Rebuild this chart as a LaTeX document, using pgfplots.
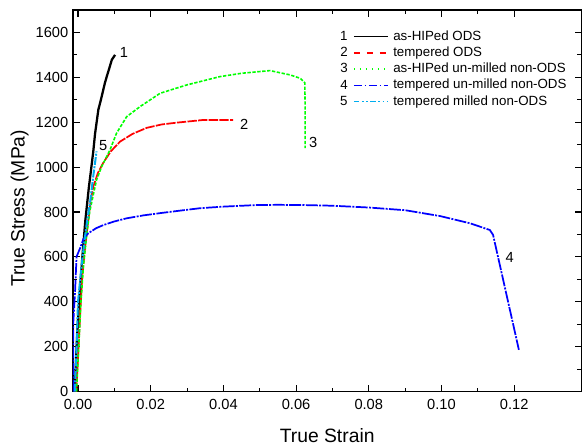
\documentclass[border=0pt]{standalone}
\usepackage{fontspec}
\setmainfont{Liberation Sans}
\usepackage{pgfplots}
\pgfplotsset{compat=1.18}
\newcommand{\legnum}[1]{\node[anchor=east,inner sep=0pt,text=black,font=\fontsize{10}{12}\selectfont] at (-4pt,-0.3pt){#1};}
\pgfplotsset{
 legA/.style={legend image code/.code={\draw[black,line width=1.1pt] (0pt,0pt) -- (25.5pt,0pt); \legnum{1}}},
 legB/.style={legend image code/.code={\draw[red,line width=1.1pt,dash pattern=on 4.7pt off 5pt] (0pt,0pt) -- (25.5pt,0pt); \legnum{2}}},
 legC/.style={legend image code/.code={\draw[green,line width=1.1pt,dash pattern=on 1.1pt off 3.4pt] (0pt,0pt) -- (25.5pt,0pt); \legnum{3}}},
 legD/.style={legend image code/.code={\draw[blue,line width=1.1pt,dash pattern=on 6pt off 2pt on 1.2pt off 2pt] (0pt,0pt) -- (25.5pt,0pt); \legnum{4}}},
 legE/.style={legend image code/.code={\draw[cyan,line width=1.1pt,dash pattern=on 4pt off 2pt on 1.2pt off 2pt on 1.2pt off 2pt] (0pt,0pt) -- (25.5pt,0pt); \legnum{5}}},
}
\begin{document}
\begin{tikzpicture}
\begin{axis}[name=ax,
  scale only axis, width=381.75pt, height=286.5pt,
  xmin=-0.0014, xmax=0.1385, ymin=0, ymax=1700,
  axis line style={line width=0.9pt},
  tick style={line width=0.8pt, black},
  tick align=inside,
  major tick length=5pt, minor tick length=3pt,
  xtick={0,0.02,...,0.121}, minor x tick num=1,
  ytick={0,200,...,1600}, minor y tick num=1,
  xticklabel style={/pgf/number format/.cd, fixed, fixed zerofill, precision=2},
  ticklabel style={font=\fontsize{11}{13}\selectfont},
  /pgf/number format/assume math mode=true,
  /pgf/number format/1000 sep={},
  xticklabel shift=2pt,
  xlabel={True Strain}, ylabel={True Stress (MPa)},
  every axis x label/.style={at={(axis description cs:0.5,-0.115)}, anchor=center, font=\fontsize{14.5}{16}\selectfont},
  every axis y label/.style={at={(axis description cs:-0.105,0.48)}, rotate=90, anchor=center, font=\fontsize{14.5}{16}\selectfont},
  legend style={at={(rel axis cs:0.517,0.955)}, anchor=north west, draw=none, fill=none,
    font=\fontsize{10}{12}\selectfont,
    nodes={inner sep=0pt, text height=7.5pt, text depth=2.2pt, anchor=west},
    row sep=2.2pt, column sep=3.5pt},
  legend cell align=left,
]
\addplot[black, solid, line width=1.7pt, legA]
coordinates {(-0.0009,0) (-0.0004,200) (0.0003,400) (0.0012,600) (0.002,760) (0.003,912) (0.0036,990) (0.0042,1070) (0.0047,1150) (0.0056,1256) (0.0063,1300) (0.0074,1375) (0.0079,1403) (0.0086,1440) (0.0093,1478) (0.0102,1500)};
\addlegendentry{as-HIPed ODS}
\addplot[red, line width=1.3pt, dash pattern=on 7pt off 1pt, legB]
coordinates {(-0.0005,0) (0,150) (0.0006,350) (0.0012,520) (0.002,650) (0.0028,760) (0.0035,850) (0.0042,913) (0.0055,975) (0.0069,1018) (0.009,1070) (0.0116,1114) (0.015,1148) (0.0189,1175) (0.023,1190) (0.0271,1198) (0.0344,1210) (0.0427,1210)};
\addlegendentry{tempered ODS}
\addplot[green, line width=1.2pt, dash pattern=on 2.5pt off 1.2pt, legC]
coordinates {(-0.0004,0) (0.0002,200) (0.0008,400) (0.0015,560) (0.0024,700) (0.0032,800) (0.0041,869) (0.0051,943) (0.0065,1002) (0.0088,1077) (0.0106,1151) (0.0134,1225) (0.0171,1270) (0.0226,1329) (0.0299,1366) (0.039,1403) (0.045,1418) (0.0528,1430) (0.0583,1411) (0.0611,1396) (0.0624,1376) (0.0625,1250) (0.0625,1085)};
\addlegendentry{as-HIPed un-milled non-ODS}
\addplot[blue, line width=1.3pt, dash pattern=on 9pt off 1pt on 1.5pt off 1pt, legD]
coordinates {(-0.0013,0) (-0.0013,306) (-0.0008,450) (-0.0004,601) (0.0006,640) (0.0015,680) (0.0028,705) (0.005,728) (0.007,742) (0.01,758) (0.0134,772) (0.018,785) (0.0226,795) (0.028,806) (0.0336,817) (0.04,824) (0.049,831) (0.055,832) (0.062,831) (0.07,828) (0.08,820) (0.09,808) (0.0996,782) (0.1078,750) (0.1133,720) (0.1142,698) (0.1213,186)};
\addlegendentry{tempered un-milled non-ODS}
\addplot[cyan, line width=1.5pt, dash pattern=on 6pt off 1pt on 1.5pt off 1pt, legE]
coordinates {(-0.0009,0) (-0.0004,200) (0.0,400) (0.0009,550) (0.0017,662) (0.0025,760) (0.0033,840) (0.0042,960) (0.0051,1070)};
\addlegendentry{tempered milled non-ODS}
\node[font=\fontsize{11}{13}\selectfont] at (axis cs:0.01265,1513) {1};
\node[font=\fontsize{11}{13}\selectfont] at (axis cs:0.0457,1192) {2};
\node[font=\fontsize{11}{13}\selectfont] at (axis cs:0.0647,1108) {3};
\node[font=\fontsize{11}{13}\selectfont] at (axis cs:0.1188,596) {4};
\node[font=\fontsize{11}{13}\selectfont] at (axis cs:0.0069,1094) {5};
\end{axis}
\path (ax.south west) ++(-54.75pt,-39.75pt) coordinate (bl);
\path (ax.north east) ++(0pt,7.5pt) coordinate (tr);
\path (bl) rectangle (tr);
\end{tikzpicture}
\end{document}
